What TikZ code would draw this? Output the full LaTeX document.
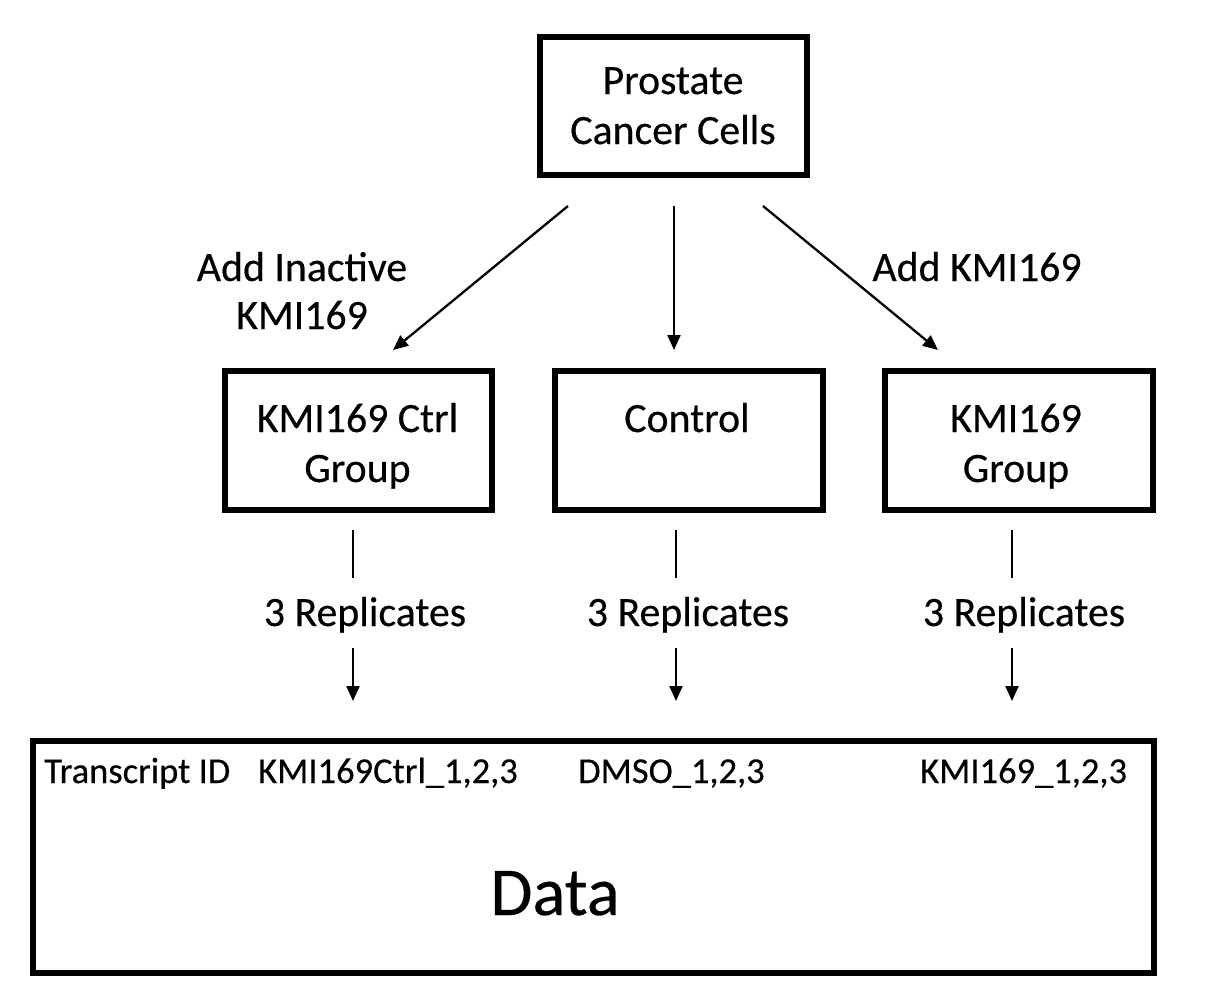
\documentclass[tikz,border=0pt]{standalone}
\usepackage{fontspec}
\setmainfont{Carlito}[FakeBold=0.4]
\usetikzlibrary{arrows.meta}
\begin{document}
\begin{tikzpicture}[x=1pt,y=-1pt,
  box/.style={draw, line width=6pt, inner sep=0pt},
  lbl/.style={inner sep=0pt, anchor=base, font=\fontsize{41.8}{50}\selectfont},
  small/.style={inner sep=0pt, anchor=base west, font=\fontsize{36.5}{42}\selectfont},
  big/.style={inner sep=0pt, anchor=base, font=\fontsize{68.5}{80}\selectfont},
  arr/.style={line width=2.3pt, -{Triangle[length=15pt,width=13pt]}},
  ln/.style={line width=2.3pt}]
\path[use as bounding box] (0,0) rectangle (1210,1002);

% boxes
\node[box, minimum width=267pt, minimum height=138pt] (top) at (673.5,106) {};
\node[box, minimum width=267pt, minimum height=139pt] (lbox) at (358.5,440.5) {};
\node[box, minimum width=268pt, minimum height=139pt] (mbox) at (689,440.5) {};
\node[box, minimum width=268pt, minimum height=139pt] (rbox) at (1019,440.5) {};
\node[box, minimum width=1121pt, minimum height=232pt] (data) at (593.5,857) {};

% box texts
\node[lbl] (t1) at (673,94) {Prostate};
\node[lbl] (t2) at (673,144) {Cancer Cells};
\node[lbl] (l1) at (357.5,432) {KMI169 Ctrl};
\node[lbl] (l2) at (357.5,482) {Group};
\node[lbl] (m1) at (687,432) {Control};
\node[lbl] (r1) at (1016,432) {KMI169};
\node[lbl] (r2) at (1016,482) {Group};

% edge labels
\node[lbl] (a1) at (302,281) {Add Inactive};
\node[lbl] (a2) at (302,329) {KMI169};
\node[lbl] (a3) at (977,281) {Add KMI169};

% replicate labels
\node[lbl] (rep1) at (365,626) {3 Replicates};
\node[lbl] (rep2) at (688,626) {3 Replicates};
\node[lbl] (rep3) at (1024,626) {3 Replicates};

% data texts
\node[small] (d0) at (44,783) {Transcript ID};
\node[small] (d1) at (258,783) {KMI169Ctrl\_1,2,3};
\node[small] (d2) at (578,783) {DMSO\_1,2,3};
\node[small] (d3) at (920,783) {KMI169\_1,2,3};
\node[big] (dt) at (555,915) {Data};

% connector endpoints
\coordinate (s1) at (568,206);
\coordinate (e1) at (393,350);
\coordinate (s2) at (674,206);
\coordinate (e2) at (674,350);
\coordinate (s3) at (763,206);
\coordinate (e3) at (938,350);

\draw[arr] (s1) -- (e1);
\draw[arr] (s2) -- (e2);
\draw[arr] (s3) -- (e3);

\coordinate (p1a) at (353,530); \coordinate (p1b) at (353,578);
\coordinate (q1a) at (353,648); \coordinate (q1b) at (353,701);
\coordinate (p2a) at (676,530); \coordinate (p2b) at (676,578);
\coordinate (q2a) at (676,648); \coordinate (q2b) at (676,701);
\coordinate (p3a) at (1012,530); \coordinate (p3b) at (1012,578);
\coordinate (q3a) at (1012,648); \coordinate (q3b) at (1012,701);

\draw[ln] (p1a) -- (p1b);
\draw[arr] (q1a) -- (q1b);
\draw[ln] (p2a) -- (p2b);
\draw[arr] (q2a) -- (q2b);
\draw[ln] (p3a) -- (p3b);
\draw[arr] (q3a) -- (q3b);
\end{tikzpicture}
\end{document}
